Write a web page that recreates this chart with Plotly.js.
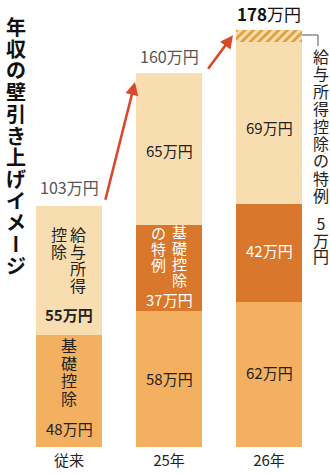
<!DOCTYPE html>
<html>
<head>
<meta charset="utf-8">
<script src="https://cdn.plot.ly/plotly-3.0.1.min.js"></script>
<style>html,body{margin:0;padding:0;background:#fff;}#chart{width:330px;height:475px;}</style>
</head>
<body>
<div id="chart"></div>
<script>
// ---- data ----
const categories = ['従来', '25年', '26年'];
const basicDeduction = [48, 58, 62];        // 基礎控除
const basicSpecial = [0, 37, 42];           // 基礎控除の特例
const salaryDeduction = [55, 65, 69];       // 給与所得控除
const salarySpecial = [0, 0, 5];            // 給与所得控除の特例
const totals = [103, 160, 178];
const titleText = '年収の壁引き上げイメージ';
const noteText = '給与所得控除の特例';
const noteValue = '5万円';

// ---- layout constants ----
const W = 330, H = 475, L = 19, R = 11, T = 10, B = 28;
const pw = W - L - R, ph = H - T - B;
const PXU = 2.34;
const ymax = ph / PXU;
const FONT = '"Noto Sans CJK JP", "Noto Sans", sans-serif';

const C_LIGHT = '#F8DDB0', C_MID = '#F2B060', C_DARK = '#D9772C', C_HATCH = '#E39A36';

function P(px, py) { return { x: (px - L) / pw, y: (H - B - py) / ph }; }
function ann(px, py, text, font, extra) {
  const p = P(px, py);
  return Object.assign({ xref: 'paper', yref: 'paper', x: p.x, y: p.y, text: text,
    showarrow: false, xanchor: 'center', yanchor: 'middle',
    font: Object.assign({ family: FONT, size: 15, color: '#222' }, font || {}) }, extra || {});
}
// vertical column of characters as one text: line pitch = 1.3 * base size, glyphs at glyph size
function vcol(px, pyFirst, pitch, chars, glyph, font) {
  const arr = Array.from(chars);
  const text = arr.map(c => {
    const extra = c === 'ー' ? ";font-feature-settings:'vert' 1" : '';
    return `<span style="font-size:${glyph}px${extra}">${c}</span>`;
  }).join('<br>');
  const pyMid = pyFirst + (arr.length - 1) * pitch / 2;
  return ann(px, pyMid, text, Object.assign({ size: pitch / 1.3 }, font || {}));
}
const barX = i => L + pw * (i + 0.5) / 3;

const traces = [
  { type: 'bar', x: categories, y: basicDeduction, width: 0.66, marker: { color: C_MID, line: { width: 0 } }, hoverinfo: 'skip' },
  { type: 'bar', x: categories, y: basicSpecial, width: 0.66, marker: { color: C_DARK, line: { width: 0 } }, hoverinfo: 'skip' },
  { type: 'bar', x: categories, y: salaryDeduction, width: 0.66, marker: { color: C_LIGHT, line: { width: 0 } }, hoverinfo: 'skip' },
  { type: 'bar', x: categories, y: salarySpecial, width: 0.66,
    marker: { color: C_HATCH, line: { width: 0 },
      pattern: { shape: '/', fillmode: 'replace', bgcolor: C_LIGHT, fgcolor: C_HATCH, size: 6, solidity: 0.45 } },
    hoverinfo: 'skip' }
];

const annotations = [];
// title (vertical)
annotations.push(vcol(16, 27, 21.7, titleText, 20, { color: '#111', weight: 'bold' }));

// totals
const man = '万円';
annotations.push({ xref: 'x', yref: 'y', x: 0, y: totals[0], yanchor: 'bottom', yshift: 5, showarrow: false,
  text: totals[0] + man, font: { family: FONT, size: 16, color: '#555' } });
annotations.push({ xref: 'x', yref: 'y', x: 1, y: totals[1], yanchor: 'bottom', yshift: 3, showarrow: false,
  text: totals[1] + man, font: { family: FONT, size: 16, color: '#555' } });
annotations.push({ xref: 'x', yref: 'y', x: 2, y: totals[2], yanchor: 'bottom', yshift: 2, showarrow: false,
  text: '<b>' + totals[2] + '</b>' + man, font: { family: FONT, size: 17, color: '#111' } });

// bar 1
const b0 = barX(0), b1 = barX(1), b2 = barX(2);
annotations.push(vcol(b0 + 9, 234, 17, '給与所得', 16));
annotations.push(vcol(b0 - 10, 234, 17, '控除', 16));
annotations.push(ann(b0, 314, salaryDeduction[0] + man, { weight: 'bold' }));
annotations.push(vcol(b0, 345, 17.5, '基礎控除', 16));
annotations.push(ann(b0, 428, basicDeduction[0] + man));

// bar 2
annotations.push(ann(b1, 150, salaryDeduction[1] + man));
annotations.push(vcol(b1 + 10, 232, 16, '基礎控除', 15, { color: '#fff' }));
annotations.push(vcol(b1 - 11, 232, 16, 'の特例', 15, { color: '#fff' }));
annotations.push(ann(b1, 299, basicSpecial[1] + man, { color: '#fff' }));
annotations.push(ann(b1, 378, basicDeduction[1] + man));

// bar 3
annotations.push(ann(b2, 127, salaryDeduction[2] + man));
annotations.push(ann(b2, 250, basicSpecial[2] + man, { color: '#fff' }));
annotations.push(ann(b2, 372, basicDeduction[2] + man));

// right note
annotations.push(vcol(321, 56, 17.4, noteText, 16));
annotations.push(vcol(321, 223, 16.5, noteValue, 16));

// arrows
annotations.push({ xref: 'x', yref: 'y', axref: 'x', ayref: 'y', x: 0.66, y: totals[1] - 4, ax: 0.36, ay: totals[0] + 2,
  text: '', showarrow: true, arrowhead: 2, arrowsize: 1, arrowwidth: 2.6, arrowcolor: '#D9482B', standoff: 0, startstandoff: 0 });
annotations.push({ xref: 'x', yref: 'y', axref: 'x', ayref: 'y', x: 1.64, y: totals[2] - 2, ax: 1.38, ay: totals[1] + 1,
  text: '', showarrow: true, arrowhead: 2, arrowsize: 1, arrowwidth: 2.6, arrowcolor: '#D9482B', standoff: 0, startstandoff: 0 });

// bracket line
const s1 = P(302, 35), s2 = P(318, 35), s3 = P(318, 46);
const shapes = [{ type: 'path', xref: 'paper', yref: 'paper',
  path: `M ${s1.x} ${s1.y} L ${s2.x} ${s2.y} L ${s3.x} ${s3.y}`, line: { color: '#555', width: 1 } }];

const layout = {
  width: W, height: H,
  margin: { l: L, r: R, t: T, b: B, pad: 0 },
  paper_bgcolor: '#fff', plot_bgcolor: 'rgba(0,0,0,0)',
  barmode: 'stack', showlegend: false,
  font: { family: FONT },
  xaxis: { type: 'category', range: [-0.5, 2.5], showgrid: false, zeroline: false, showline: false, ticks: '',
    ticklabelstandoff: 3,
    tickfont: { family: FONT, size: 15, color: '#222' }, fixedrange: true },
  yaxis: { range: [0, ymax], visible: false, fixedrange: true },
  annotations: annotations,
  shapes: shapes
};

Plotly.newPlot('chart', traces, layout, { displayModeBar: false, staticPlot: true });
</script>
</body>
</html>
